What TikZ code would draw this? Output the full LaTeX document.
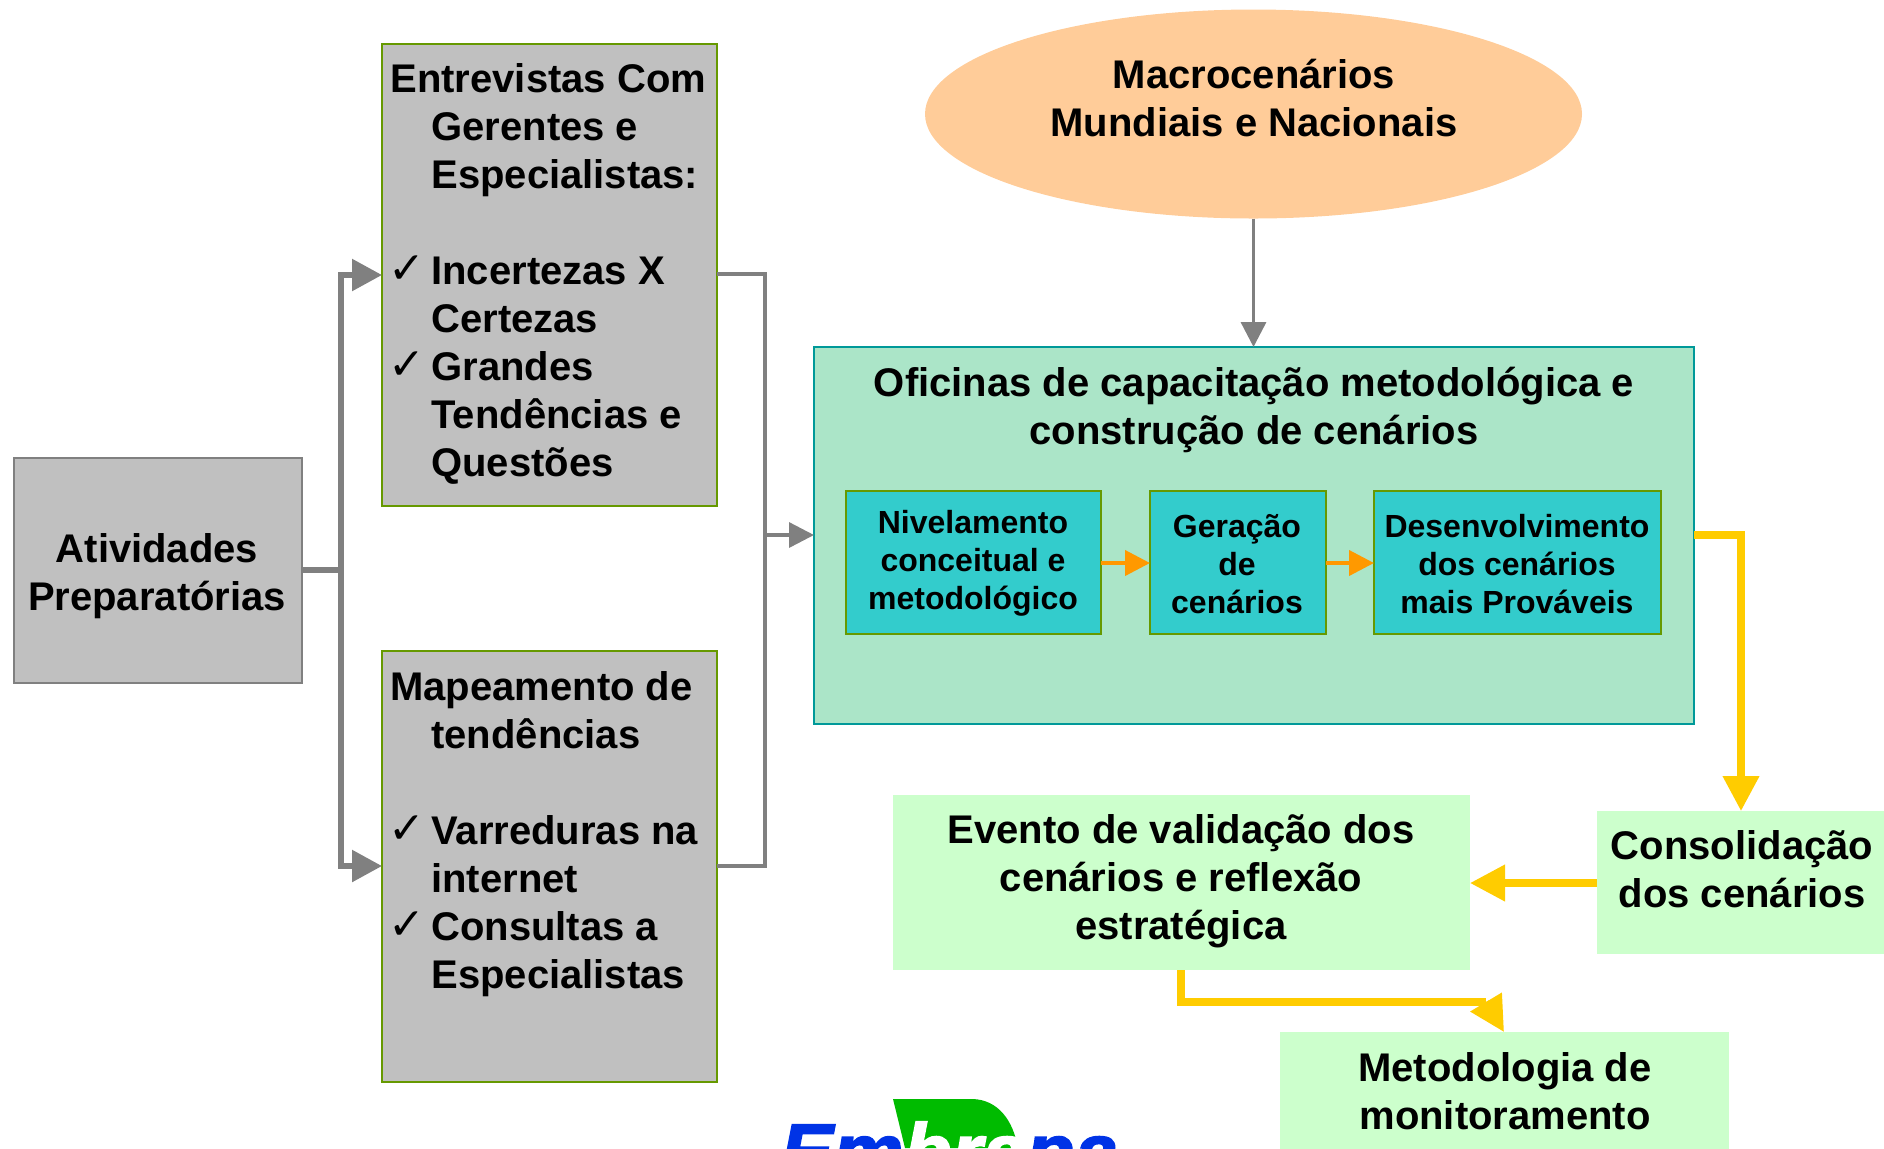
\documentclass[tikz,border=0pt]{standalone}
\usepackage{fontspec}
\setmainfont{Liberation Sans}
\newfontfamily\chk{DejaVu Sans}
\newfontfamily\logofont[BoldItalicFeatures={FakeBold=2}]{Liberation Sans}
\usetikzlibrary{arrows.meta,shapes.geometric,calc}
\definecolor{graybox}{HTML}{C0C0C0}
\definecolor{grayline}{HTML}{808080}
\definecolor{olive}{HTML}{669900}
\definecolor{peach}{HTML}{FFCC99}
\definecolor{mint}{HTML}{ABE5C8}
\definecolor{tealine}{HTML}{009999}
\definecolor{cyanbox}{HTML}{33CCCC}
\definecolor{palegreen}{HTML}{CCFFCC}
\definecolor{goldline}{HTML}{FFCC00}
\definecolor{orangeline}{HTML}{FF9900}
\definecolor{logoblue}{HTML}{0033E6}
\definecolor{logogreen}{HTML}{00BB00}
\newcommand\boxat[6]{\node[#6,minimum width={(#4-#2)*0.5pt},minimum height={(#5-#3)*0.5pt}] (#1) at ({(#2+#4)/2},{(#3+#5)/2}) {};}
\newcommand\ck{\leavevmode\llap{\raisebox{0.6pt}{\chk\fontsize{22}{22}\selectfont ✓}\hspace{3pt}}}
\tikzset{
 shape base/.style={rectangle,inner sep=0pt,outer sep=0pt},
 graybig/.style={shape base,fill=graybox,draw=olive,line width=0.75pt},
 grayprep/.style={shape base,fill=graybox,draw=grayline,line width=0.75pt},
 workshop/.style={shape base,fill=mint,draw=tealine,line width=0.75pt},
 stepbox/.style={shape base,fill=cyanbox,draw=olive,line width=0.75pt},
 outbox/.style={shape base,fill=palegreen},
 bigtext/.style={font=\fontsize{20}{24}\selectfont\bfseries,align=center,inner sep=0pt},
 listtext/.style={font=\fontsize{20}{24}\selectfont\bfseries,align=left,inner sep=0pt,anchor=north west},
 smalltext/.style={font=\fontsize{16}{19}\selectfont\bfseries,align=center,inner sep=0pt},
 thick gray/.style={draw=grayline,line width=2.8pt},
 thin gray/.style={draw=grayline,line width=1.7pt},
 graytip/.style={-{Triangle[length=15pt,width=15.5pt]}},
 smalltip/.style={-{Triangle[length=12.5pt,width=12.5pt]}},
 gold/.style={draw=goldline,line width=3.6pt},
 goldtip/.style={-{Triangle[length=17.5pt,width=17.5pt]}},
 orangearrow/.style={draw=orangeline,line width=2pt,-{Triangle[length=12.5pt,width=12.5pt]}},
}
\begin{document}
\begin{tikzpicture}[x=0.5pt,y=-0.5pt]
\useasboundingbox (0,0) rectangle (1884,1148);
\clip (0,0) rectangle (1884,1148);
% logo
\fill[logogreen] (893,1099) -- (973,1099) .. controls (998,1100) and (1013,1120) .. (1018,1148) -- (905,1148) -- cycle;
\node[anchor=base west,inner sep=0pt,font=\logofont\fontsize{39.5}{40}\selectfont\bfseries\itshape] (logo) at (780,1179) {\textcolor{logoblue}{Em}\textcolor{white}{bra}\textcolor{logoblue}{pa}};
% boxes
\boxat{prep}{14}{458}{302}{683}{grayprep}
\boxat{entre}{382}{44}{717}{506}{graybig}
\boxat{mapa}{382}{651}{717}{1082}{graybig}
\node[ellipse,fill=peach,inner sep=0pt,outer sep=0pt,minimum width=328.5pt,minimum height=104.5pt] (macro) at (1253.5,114) {};
\boxat{ofi}{814}{347}{1694}{724}{workshop}
\boxat{niv}{846}{491}{1101}{634}{stepbox}
\boxat{ger}{1150}{491}{1326}{634}{stepbox}
\boxat{des}{1374}{491}{1661}{634}{stepbox}
\boxat{con}{1597}{811}{1884}{954}{outbox}
\boxat{eve}{893}{795}{1470}{970}{outbox}
\boxat{met}{1280}{1032}{1729}{1160}{outbox}
% texts
\node[bigtext] (tprep) at (157,576) {Atividades\\Preparatórias};
\node[listtext] (tentre) at (390,63) {Entrevistas Com\\\hspace*{20.5pt}Gerentes e\\\hspace*{20.5pt}Especialistas:\\[24pt]\hspace*{20.5pt}\ck Incertezas X\\\hspace*{20.5pt}Certezas\\\hspace*{20.5pt}\ck Grandes\\\hspace*{20.5pt}Tendências e\\\hspace*{20.5pt}Questões};
\node[listtext] (tmapa) at (390,671) {Mapeamento de\\\hspace*{20.5pt}tendências\\[24pt]\hspace*{20.5pt}\ck Varreduras na\\\hspace*{20.5pt}internet\\\hspace*{20.5pt}\ck Consultas a\\\hspace*{20.5pt}Especialistas};
\node[bigtext] (tmacro) at (1254,98) {Macrocenários\\Mundiais e Nacionais};
\node[bigtext] (tofi) at (1254,410) {Oficinas de capacitação metodológica e\\construção de cenários};
\node[smalltext] (tniv) at (973,563) {Nivelamento\\conceitual e\\metodológico};
\node[smalltext] (tger) at (1237,564) {Geração\\de\\cenários};
\node[smalltext] (tdes) at (1517,564) {Desenvolvimento\\dos cenários\\mais Prováveis};
\node[bigtext] (tcon) at (1742,869) {Consolidação\\dos cenários};
\node[bigtext] (teve) at (1181,881) {Evento de validação dos\\cenários e reflexão\\estratégica};
\node[bigtext] (tmet) at (1505,1091) {Metodologia de\\monitoramento};
% connectors
\coordinate (busT) at (341,275);
\coordinate (busB) at (341,866);
\draw[thick gray] (prep.east |- 0,570) -- (341,570);
\draw[thick gray,graytip] (341,570) |- (entre.west |- busT);
\draw[thick gray,graytip] (341,570) |- (mapa.west |- busB);
\coordinate (inT) at (765,274);
\coordinate (inB) at (765,866);
\draw[thin gray] (entre.east |- inT) -| (inB) -- (mapa.east |- inB);
\draw[thin gray,smalltip] (765,535) -- (ofi.west |- 0,535);
\draw[thin gray,smalltip] (macro.south) -- (macro.south |- ofi.north);
\draw[orangearrow] (niv.east |- 0,563) -- (ger.west |- 0,563);
\draw[orangearrow] (ger.east |- 0,563) -- (des.west |- 0,563);
\draw[gold,goldtip] (ofi.east |- 0,535) -| (1741,811);
\draw[gold,goldtip] (con.west |- 0,883) -- (eve.east |- 0,883);
\coordinate (bend) at (1486,1002);
\draw[gold] (1181,970) |- (bend);
\draw[gold,goldtip] (bend) -- (1504,1032);
\end{tikzpicture}
\end{document}
